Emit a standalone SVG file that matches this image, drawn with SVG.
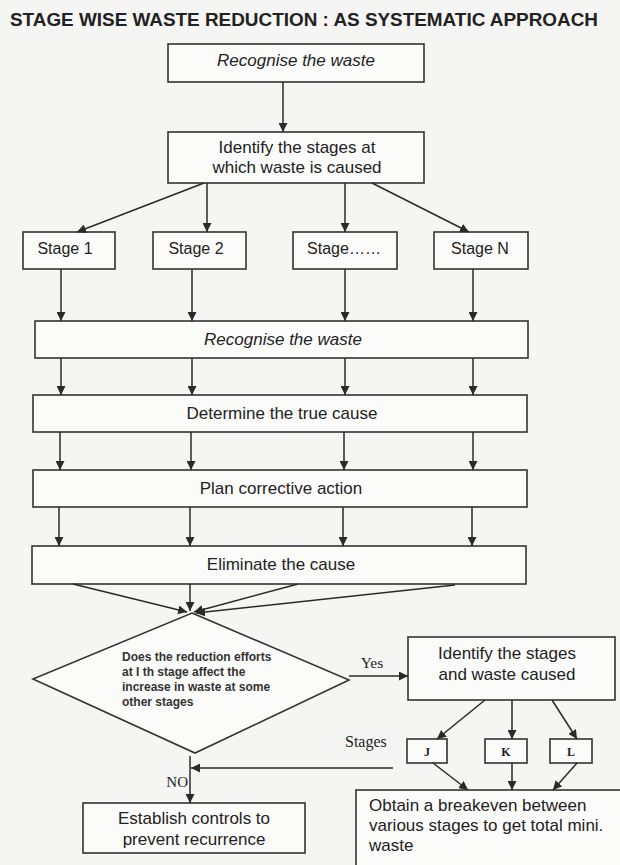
<svg xmlns="http://www.w3.org/2000/svg" width="620" height="865" viewBox="0 0 620 865">
<defs>
<marker id="ah" viewBox="0 0 10 10" refX="10" refY="5" markerWidth="9" markerHeight="9" markerUnits="userSpaceOnUse" orient="auto">
<path d="M0,0 L10,5 L0,10 z" fill="#2a2a2a"/>
</marker>
<style>
.box{fill:#fbfbfa;stroke:#333;stroke-width:1.6}
.t{font-family:"Liberation Sans",Arial,sans-serif;font-size:17px;fill:#222;text-anchor:middle}
.it{font-style:italic}
.st{font-family:"Liberation Sans",Arial,sans-serif;font-size:16px;fill:#222;text-anchor:middle}
.ser{font-family:"Liberation Serif","Times New Roman",serif;fill:#222}
.dt{font-family:"Liberation Sans",Arial,sans-serif;font-size:12px;font-weight:bold;fill:#333}
.c line,.c polyline{stroke:#2a2a2a;stroke-width:1.5;fill:none}
.a{marker-end:url(#ah)}
</style>
</defs>
<rect x="0" y="0" width="620" height="865" fill="#f5f5f3"/>
<text x="304" y="26" font-family="Liberation Sans,Arial,sans-serif" font-size="19" font-weight="bold" fill="#222" text-anchor="middle" textLength="588" lengthAdjust="spacingAndGlyphs">STAGE WISE WASTE REDUCTION : AS SYSTEMATIC APPROACH</text>

<g id="n-recognise-top"><rect class="box" x="168" y="44" width="256" height="38"/><text class="t it" x="296" y="66">Recognise the waste</text></g>
<g id="n-identify-top"><rect class="box" x="168" y="132" width="256" height="51"/><text class="t" x="297" y="153">Identify the stages at</text><text class="t" x="297" y="173">which waste is caused</text></g>

<g id="n-stage1"><rect class="box" x="23" y="232" width="92" height="37"/><text class="st" x="65" y="254">Stage 1</text></g>
<g id="n-stage2"><rect class="box" x="153" y="232" width="93" height="37"/><text class="st" x="196" y="254">Stage 2</text></g>
<g id="n-stagex"><rect class="box" x="293" y="232" width="104" height="37"/><text class="st" x="344" y="254">Stage……</text></g>
<g id="n-stageN"><rect class="box" x="434" y="232" width="94" height="37"/><text class="st" x="480" y="254">Stage N</text></g>

<g id="n-recognise"><rect class="box" x="35" y="321" width="493" height="37"/><text class="t it" x="283" y="345">Recognise the waste</text></g>
<g id="n-determine"><rect class="box" x="33" y="395" width="494" height="37"/><text class="t" x="282" y="419">Determine the true cause</text></g>
<g id="n-plan"><rect class="box" x="33" y="470" width="494" height="37"/><text class="t" x="281" y="494">Plan corrective action</text></g>
<g id="n-eliminate"><rect class="box" x="32" y="546" width="494" height="38"/><text class="t" x="281" y="570">Eliminate the cause</text></g>

<g id="n-decision"><polygon class="box" points="192,613 349,680 195,753 33,679"/>
<text class="dt" x="122" y="661">Does the reduction efforts</text>
<text class="dt" x="122" y="676">at I th stage affect the</text>
<text class="dt" x="122" y="691">increase in waste at some</text>
<text class="dt" x="122" y="706">other stages</text></g>

<g id="n-identify2"><rect class="box" x="408" y="637" width="207" height="63"/><text class="t" x="507" y="659" font-size="17.5">Identify the stages</text><text class="t" x="507" y="680" font-size="17.5">and waste caused</text></g>

<g id="n-J"><rect class="box" x="407" y="739" width="40" height="24"/><text class="ser" x="427" y="756" font-size="12" font-weight="bold" text-anchor="middle">J</text></g>
<g id="n-K"><rect class="box" x="485" y="739" width="42" height="24"/><text class="ser" x="506" y="756" font-size="12" font-weight="bold" text-anchor="middle">K</text></g>
<g id="n-L"><rect class="box" x="550" y="739" width="42" height="24"/><text class="ser" x="571" y="756" font-size="12" font-weight="bold" text-anchor="middle">L</text></g>

<g id="n-establish"><rect class="box" x="83" y="803" width="222" height="50"/><text class="t" x="194" y="824">Establish controls to</text><text class="t" x="194" y="845">prevent recurrence</text></g>

<g id="n-obtain"><rect class="box" x="356" y="790" width="274" height="80"/>
<text class="t" x="369" y="811" style="text-anchor:start">Obtain a breakeven between</text>
<text class="t" x="369" y="831" style="text-anchor:start">various stages to get total mini.</text>
<text class="t" x="369" y="851" style="text-anchor:start">waste</text></g>

<g id="connectors" class="c">
<line class="a" x1="283" y1="82" x2="283" y2="132"/>
<line class="a" x1="204" y1="183" x2="77" y2="232"/>
<line class="a" x1="207" y1="183" x2="207" y2="232"/>
<line class="a" x1="345" y1="183" x2="345" y2="232"/>
<line class="a" x1="372" y1="183" x2="469" y2="232"/>

<line class="a" x1="61" y1="269" x2="61" y2="321"/>
<line class="a" x1="192" y1="269" x2="192" y2="321"/>
<line class="a" x1="345" y1="269" x2="345" y2="321"/>
<line class="a" x1="473" y1="269" x2="473" y2="321"/>

<line class="a" x1="61" y1="358" x2="61" y2="395"/>
<line class="a" x1="192" y1="358" x2="192" y2="395"/>
<line class="a" x1="345" y1="358" x2="345" y2="395"/>
<line class="a" x1="473" y1="358" x2="473" y2="395"/>

<line class="a" x1="60" y1="432" x2="60" y2="470"/>
<line class="a" x1="191" y1="432" x2="191" y2="470"/>
<line class="a" x1="344" y1="432" x2="344" y2="470"/>
<line class="a" x1="473" y1="432" x2="473" y2="470"/>

<line class="a" x1="59" y1="507" x2="59" y2="546"/>
<line class="a" x1="190" y1="507" x2="190" y2="546"/>
<line class="a" x1="343" y1="507" x2="343" y2="546"/>
<line class="a" x1="472" y1="507" x2="472" y2="546"/>

<line class="a" x1="73" y1="584" x2="187" y2="612"/>
<line class="a" x1="190" y1="584" x2="190" y2="611"/>
<line class="a" x1="298" y1="584" x2="194" y2="612"/>
<line class="a" x1="455" y1="585" x2="196" y2="613"/>

<line class="a" x1="349" y1="676" x2="408" y2="676"/>

<line class="a" x1="485" y1="700" x2="437" y2="739"/>
<line class="a" x1="512" y1="700" x2="512" y2="739"/>
<line class="a" x1="552" y1="700" x2="577" y2="739"/>

<line class="a" x1="433" y1="763" x2="468" y2="790"/>
<line class="a" x1="512" y1="763" x2="512" y2="790"/>
<line class="a" x1="577" y1="763" x2="553" y2="790"/>

<line class="a" x1="393" y1="768" x2="191" y2="768"/>
<line class="a" x1="190" y1="756" x2="190" y2="803"/>
</g>

<text class="ser" x="372" y="668" font-size="15.5" text-anchor="middle">Yes</text>
<text class="ser" x="345" y="747" font-size="16">Stages</text>
<text class="ser" x="188" y="787" font-size="15" text-anchor="end">NO</text>
</svg>
